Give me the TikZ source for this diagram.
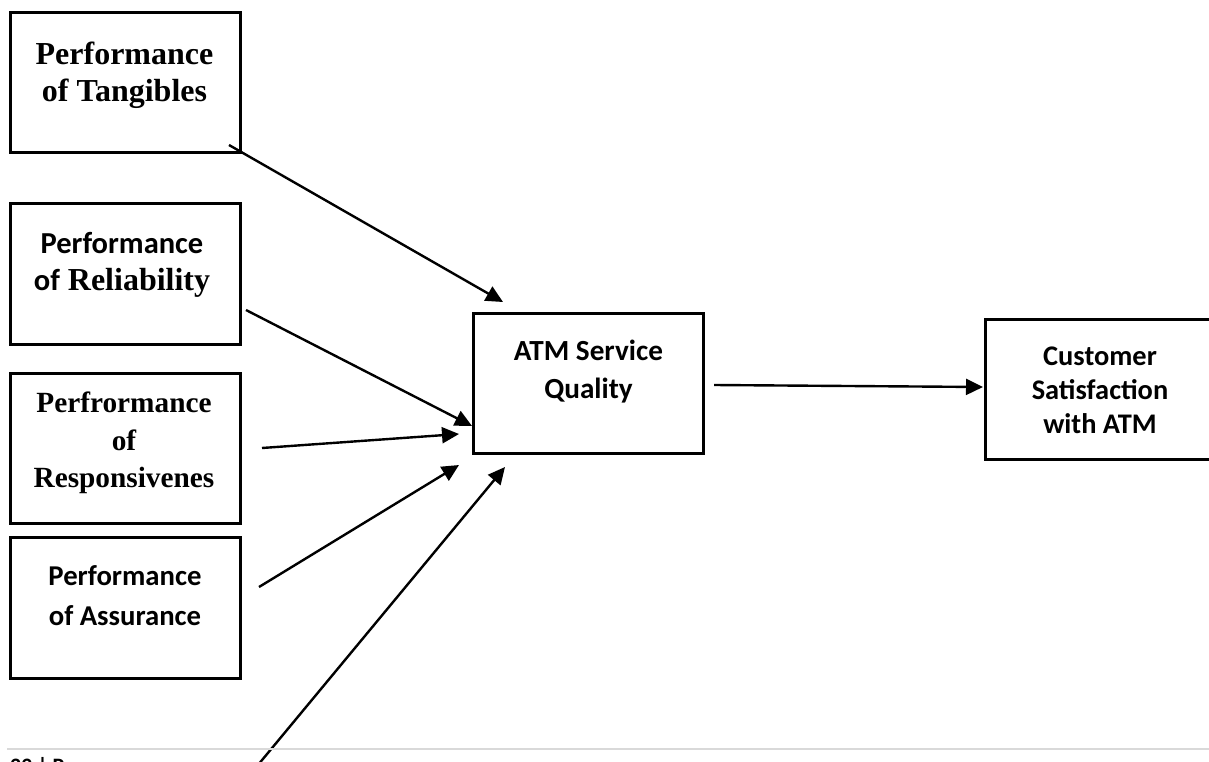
\documentclass[tikz,border=0pt]{standalone}
\usepackage{fontspec}
\setmainfont{Liberation Serif}
\newfontfamily\calib{Carlito}
\usetikzlibrary{arrows.meta,calc}

\tikzset{
  box/.style={draw, line width=3pt, inner sep=0pt, outer sep=0pt,
    minimum width=230pt, minimum height=#1},
  box/.default=140pt,
  lbl/.style={inner sep=0pt, outer sep=0pt, align=center},
  serifbig/.style={font=\bfseries\fontsize{32}{37}\selectfont},
  link/.style={line width=2.4pt, -{Triangle[length=17pt,width=16pt]}}
}

\begin{document}
\begin{tikzpicture}[x=1pt,y=-1pt]
\useasboundingbox (0,0) rectangle (1209,762);
\clip (0,0) rectangle (1209,762);

% left-hand dimension boxes
\node[box] (tang) at (125,83) {};
\node[box=141pt] (rel) at (125,273.5) {};
\node[box=150pt] (resp) at (125,448) {};
\node[box=141pt] (assu) at (125,607.5) {};

% central and outcome boxes
\node[box] (atm) at (588,383) {};
\node[box] (cust) at (1100,389) {};

% box captions
\node[lbl, serifbig] (tangT) at (124.5,75) {Performance\\of Tangibles};
\node[lbl, font=\bfseries\fontsize{32}{37}\selectfont] (relT) at (122,265)
  {{\calib\fontsize{30.5}{37}\selectfont Performance}\\{\calib\fontsize{30.5}{37}\selectfont of} Reliability};
\node[lbl, font=\bfseries\fontsize{29.3}{37.5}\selectfont] (respT) at (124,443)
  {Perfrormance\\of\\Responsivenes};
\node[lbl, font=\calib\bfseries\fontsize{28.7}{40}\selectfont] (assuT) at (125,596)
  {Performance\\of Assurance};
\node[lbl, font=\calib\bfseries\fontsize{29.2}{38}\selectfont] (atmT) at (588.5,371.5)
  {ATM Service\\Quality};
\node[lbl, font=\calib\bfseries\fontsize{28.4}{34}\selectfont] (custT) at (1100,390.5)
  {Customer\\Satisfaction\\with ATM};

% arrow end points
\coordinate (s1) at ($(tang.south east)+(-11,-8)$);
\coordinate (t1) at ($(atm.north west)+(30,-11)$);
\coordinate (s2) at ($(rel.east)+(6,36.5)$);
\coordinate (t2) at ($(atm.west)+(-1,43)$);
\coordinate (s3) at ($(resp.east)+(22,0)$);
\coordinate (t3) at ($(atm.west)+(-14,51)$);
\coordinate (s4) at ($(assu.east)+(19,-20.5)$);
\coordinate (t4) at ($(atm.south west)+(-14,12)$);
\coordinate (s5) at (248,777);
\coordinate (t5) at ($(atm.south west)+(32,14)$);
\coordinate (s6) at ($(atm.east)+(11,2)$);
\coordinate (t6) at ($(cust.west)+(-2,-2)$);

\draw[link] (s1) -- (t1);
\draw[link] (s2) -- (t2);
\draw[link] (s3) -- (t3);
\draw[link] (s4) -- (t4);
\draw[link] (s5) -- (t5);
\draw[link] (s6) -- (t6);

% page footer rule and number
\coordinate (fl) at (7,748.5);
\coordinate (fr) at (1212,748.5);
\draw[line width=2pt, color={rgb,255:red,217;green,217;blue,217}] (fl) -- (fr);
\node[lbl, anchor=base west, font=\calib\bfseries\fontsize{22}{26}\selectfont] (foot) at (10,773) {23 | Page};
\end{tikzpicture}
\end{document}
